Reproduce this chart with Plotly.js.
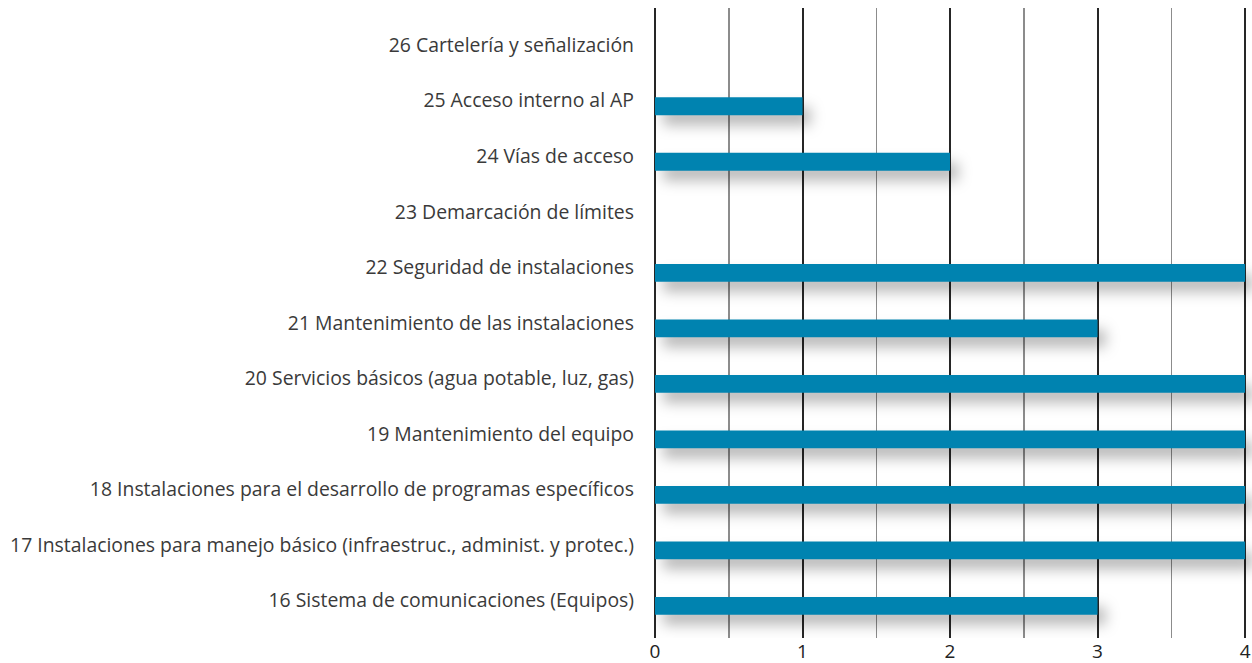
<!DOCTYPE html>
<html>
<head>
<meta charset="utf-8">
<script src="https://cdn.plot.ly/plotly-3.0.1.min.js"></script>
<style>
  html, body { margin: 0; padding: 0; background: #fff; }
  #chart { width: 1252px; height: 663px; }
  .bars path { filter: drop-shadow(8px 10px 7px rgba(0,0,0,0.28)); }
</style>
</head>
<body>
<div id="chart"></div>
<script>
const categories = [
  '16 Sistema de comunicaciones (Equipos)',
  '17 Instalaciones para manejo básico (infraestruc., administ. y protec.)',
  '18 Instalaciones para el desarrollo de programas específicos',
  '19 Mantenimiento del equipo',
  '20 Servicios básicos (agua potable, luz, gas)',
  '21 Mantenimiento de las instalaciones',
  '22 Seguridad de instalaciones',
  '23 Demarcación de límites',
  '24 Vías de acceso',
  '25 Acceso interno al AP',
  '26 Cartelería y señalización'
];
const values = [3, 4, 4, 4, 4, 3, 4, 0, 2, 1, 0];
const xTicks = [0, 1, 2, 3, 4];

const trace = {
  type: 'bar',
  orientation: 'h',
  x: values,
  y: categories,
  width: 0.32,
  offset: -0.26,
  marker: { color: '#0083b0' },
  hoverinfo: 'x+y'
};

const layout = {
  width: 1252,
  height: 663,
  margin: { l: 655, r: 0, t: 8, b: 25 },
  paper_bgcolor: '#fff',
  plot_bgcolor: '#fff',
  showlegend: false,
  font: { family: 'Open Sans, sans-serif', color: '#333' },
  xaxis: {
    range: [0, 4.047],
    tickvals: xTicks,
    ticktext: xTicks.map(String),
    showgrid: true,
    gridcolor: '#262626',
    gridwidth: 2,
    minor: { dtick: 0.5, showgrid: true, gridcolor: '#8c8c8c', gridwidth: 1.5 },
    zeroline: true,
    zerolinecolor: '#262626',
    zerolinewidth: 2,
    tickfont: { size: 19, color: '#222' },
    ticks: '',
    fixedrange: true
  },
  yaxis: {
    type: 'category',
    categoryorder: 'array',
    categoryarray: categories,
    range: [-0.68, 10.67],
    showgrid: false,
    zeroline: false,
    ticks: '',
    ticklabelstandoff: 20,
    tickfont: { size: 19.4, color: '#3a3a3a' },
    fixedrange: true
  }
};

Plotly.newPlot('chart', [trace], layout, { displayModeBar: false, staticPlot: true });
</script>
</body>
</html>
